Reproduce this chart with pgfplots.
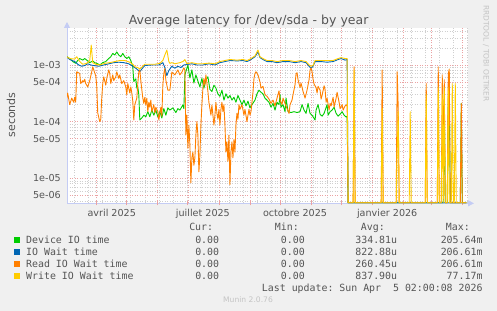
\documentclass[border=0pt]{standalone}
\usepackage{fontspec}
\setmainfont{DejaVu Sans}
\setmonofont{DejaVu Sans Mono}
\usepackage{pgfplots}
\pgfplotsset{compat=1.18}
\usetikzlibrary{arrows.meta}
\definecolor{cDev}{HTML}{00CC00}
\definecolor{cIO}{HTML}{0066B3}
\definecolor{cRead}{HTML}{FF8000}
\definecolor{cWrite}{HTML}{FFCC00}
\definecolor{bgc}{HTML}{F0F0F0}
\definecolor{mgrid}{HTML}{EBA3A3}
\definecolor{ngrid}{HTML}{CFCFCF}
\definecolor{axcol}{HTML}{C4CCF4}
\definecolor{txt}{HTML}{555555}
\definecolor{wm}{HTML}{C4C4C4}
\newcommand{\legfont}{\ttfamily\fontsize{9.9bp}{12bp}\selectfont}
\begin{document}
\begin{tikzpicture}[x=1bp,y=1bp]
\path[use as bounding box] (0bp,0bp) rectangle (497bp,311bp);
\fill[bgc] (0bp,0bp) rectangle (497bp,311bp);
\begin{axis}[
  at={(67bp,107.7bp)}, anchor=south west,
  scale only axis, width=401bp, height=175.3bp,
  xmin=-29.7, xmax=370.7,
  ymode=log, ymin=3.62e-6, ymax=4.5e-3,
  axis background/.style={fill=white},
  axis x line*=bottom, axis y line*=left,
  x axis line style={draw=axcol, line width=0.9bp, shorten >=-6bp, -{Triangle[length=6bp,width=6bp]}},
  y axis line style={draw=axcol, line width=0.9bp, shorten >=-6bp, -{Triangle[length=6bp,width=6bp]}},
  major tick length=0pt, minor tick length=0pt,
  xtick={15,106,198,290},
  xticklabels={avril 2025,juillet 2025,octobre 2025,janvier 2026},
  xticklabel style={font=\fontsize{9.6bp}{11bp}\selectfont, text=txt, anchor=base, yshift=-13.4bp, inner sep=0pt},
  xmajorgrids=false,
  extra x ticks={0,30,61,91,122,153,183,214,244,275,306,334,365},
  extra x tick labels={},
  extra x tick style={xmajorgrids=true, major tick length=4bp, tick align=center, major tick style={mgrid, line width=0.8bp}},
  minor xtick={-22,-8,...,370},
  xminorgrids=true,
  ytick={5e-6,1e-5,5e-5,1e-4,5e-4,1e-3},
  yticklabels={5e-06,1e-05,5e-05,1e-04,5e-04,1e-03},
  yticklabel style={font=\fontsize{9.6bp}{11bp}\selectfont, text=txt, anchor=east, inner sep=0pt, xshift=-6bp},
  ymajorgrids=true,
  minor ytick={4e-6,6e-6,7e-6,8e-6,9e-6,2e-5,3e-5,4e-5,6e-5,7e-5,8e-5,9e-5,2e-4,3e-4,4e-4,6e-4,7e-4,8e-4,9e-4,2e-3,3e-3,4e-3},
  yminorgrids=true,
  major grid style={mgrid, line width=0.7bp, dash pattern=on 1bp off 1.5bp},
  minor grid style={ngrid, line width=0.6bp, dash pattern=on 1bp off 1.5bp},
  every axis plot/.append style={line width=0.9bp, line join=round},
]
% Device IO time
\addplot[cDev] coordinates {
(-30,1.4e-3)(-27,1.3e-3)(-24,1.15e-3)(-21,1.07e-3)(-19,1.2e-3)(-17,1.3e-3)(-14,1.22e-3)(-12,1.3e-3)
(-9,1.18e-3)(-7,1.1e-3)(-4,1.18e-3)(-2,1.1e-3)(1,1.05e-3)(3,1.0e-3)(6,1.1e-3)(9,1.15e-3)(12,1.3e-3)
(14,1.4e-3)(16,1.6e-3)(18,1.5e-3)(20,1.7e-3)(22,1.5e-3)(24,1.4e-3)(26,1.6e-3)(28,1.4e-3)(30,1.3e-3)
(32,1.4e-3)(34,1.2e-3)(36,9.3e-4)(37,5.1e-4)(39,5.7e-4)(40,3.9e-4)(41,4.1e-4)(42,3e-4)(43,1.07e-4)
(45,1.16e-4)(47,1.3e-4)(49,1.22e-4)(51,1.5e-4)(53,1.22e-4)(55,1.6e-4)(57,1.3e-4)(59,1.6e-4)(61,1.22e-4)
(63,1.5e-4)(65,1.16e-4)(67,1.7e-4)(69,1.3e-4)(71,1.75e-4)(73,1.6e-4)(76,1.75e-4)(79,1.45e-4)(81,1.7e-4)
(83,1.6e-4)(86,1.97e-4)(87,1.7e-4)(88,6.7e-4)(91,1.0e-3)(93,5.9e-4)(95,8.2e-4)(97,4.8e-4)(99,6.7e-4)
(101,5.2e-4)(103,4.1e-4)(105,5.8e-4)(107,3.9e-4)(109,5.5e-4)(111,6.2e-4)(113,3.7e-4)(115,3.4e-4)
(117,4.4e-4)(119,3.9e-4)(121,3.1e-4)(123,2.8e-4)(125,3.6e-4)(127,2.4e-4)(129,3.1e-4)(131,2.6e-4)
(133,2.9e-4)(135,2.4e-4)(137,2.7e-4)(139,2.2e-4)(141,2.9e-4)(143,2.4e-4)(145,2.0e-4)(147,2.4e-4)
(149,1.9e-4)(151,2.3e-4)(153,1.75e-4)(155,2.0e-4)(158,2.4e-4)(160,3.1e-4)(162,3.6e-4)(164,3.3e-4)
(166,3.1e-4)(168,2.6e-4)(170,2.4e-4)(172,2.2e-4)(174,1.8e-4)(176,2.1e-4)(178,1.6e-4)(180,2.2e-4)
(182,2.0e-4)(183,3.0e-4)(184,1.8e-4)(186,2.0e-4)(188,1.5e-4)(189,2.6e-4)(191,1.5e-4)(194,1.45e-4)
(197,1.5e-4)(200,1.45e-4)(203,1.5e-4)(205,2.0e-4)(207,1.6e-4)(209,1.4e-4)(211,2.1e-4)(213,1.4e-4)
(215,1.3e-4)(218,1.07e-4)(219,1.6e-4)(221,2.0e-4)(223,1.35e-4)(225,1.25e-4)(227,1.4e-4)(230,2.0e-4)
(231,1.3e-4)(233,1.5e-4)(235,1.6e-4)(237,1.8e-4)(239,1.4e-4)(241,1.25e-4)(243,1.35e-4)(245,1.5e-4)
(247,1.3e-4)(249,1.2e-4)(250,1.25e-4)(251,3.7e-6)
(346,3.7e-6)(347,2.0e-4)(348,3.7e-6)(350,3.7e-6)(351,2.5e-4)(352,3.0e-4)(353,3.7e-6)
(363,3.7e-6)(364,2.1e-4)(365,3.7e-6)(369,3.7e-6)
};
% IO Wait time
\addplot[cIO] coordinates {
(-30,1.4e-3)(-27,1.25e-3)(-22,1.15e-3)(-18,1.0e-3)(-15,9.5e-4)(-12,9.8e-4)(-9,1.05e-3)(-6,1.0e-3)
(-3,9.8e-4)(2,9.5e-4)(7,1.0e-3)(12,1.05e-3)(17,1.1e-3)(22,1.12e-3)(27,1.1e-3)(32,1.05e-3)(36,9.5e-4)
(40,8.5e-4)(43,7.6e-4)(45,8.5e-4)(48,9.8e-4)(55,1.0e-3)(62,1.0e-3)(66,1.1e-3)(68,9e-4)(70,6.5e-4)
(72,8e-4)(75,9.5e-4)(78,8.8e-4)(81,9.5e-4)(84,9e-4)(87,1.0e-3)(90,1.02e-3)(95,1.05e-3)(100,1.0e-3)
(106,1.0e-3)(112,1.05e-3)(118,1.0e-3)(123,1.1e-3)(128,1.15e-3)(133,1.2e-3)(140,1.18e-3)(146,1.2e-3)
(150,1.15e-3)(154,1.25e-3)(158,1.4e-3)(161,1.7e-3)(163,1.35e-3)(166,1.25e-3)(170,1.15e-3)(175,1.15e-3)
(180,1.1e-3)(186,1.15e-3)(192,1.15e-3)(198,1.1e-3)(204,1.15e-3)(209,1.1e-3)(212,9.5e-4)(214,8.8e-4)
(216,9.5e-4)(218,1.15e-3)(224,1.15e-3)(230,1.12e-3)(236,1.15e-3)(241,1.25e-3)(244,1.3e-3)(248,1.22e-3)
(250,1.25e-3)(251,3.7e-6)(369,3.7e-6)
};
% Read IO Wait time
\addplot[cRead] coordinates {
(-30,2.6e-4)(-29,3.2e-4)(-27,2.0e-4)(-25,2.6e-4)(-23,2.2e-4)(-22,2.7e-4)(-21,2.2e-4)(-20,7.6e-4)
(-19,7.4e-4)(-17,7.1e-4)(-16,4.7e-4)(-14,5.3e-4)(-13,5.0e-4)(-12,5.6e-4)(-11,4.7e-4)(-9,4.1e-4)
(-7,5.3e-4)(-5,7.6e-4)(-4,9.3e-4)(-3,8.2e-4)(-1,6.4e-4)(0,4.3e-4)(1,1.42e-4)(3,1.0e-4)(4,1.1e-4)
(5,2.6e-4)(6,4.7e-4)(7,6.2e-4)(9,4.4e-4)(10,5.8e-4)(12,8.2e-4)(13,7.1e-4)(14,4.7e-4)(16,6.7e-4)
(17,5.3e-4)(19,6.2e-4)(20,7.6e-4)(22,5.8e-4)(23,6.7e-4)(25,4.7e-4)(27,5.3e-4)(29,4.1e-4)(30,3.0e-4)
(31,4.7e-4)(33,3.2e-4)(34,4.1e-4)(35,3.2e-4)(36,2.3e-4)(37,1.07e-4)(38,2.0e-4)(40,2.6e-4)(41,4.7e-4)
(42,7.6e-4)(43,8.2e-4)(44,5.3e-4)(45,3.7e-4)(46,2.6e-4)(47,2.1e-4)(48,2.7e-4)(49,1.97e-4)(50,2.6e-4)
(51,1.5e-4)(52,2.2e-4)(53,1.8e-4)(54,2.4e-4)(55,1.5e-4)(57,2.0e-4)(58,1.42e-4)(59,1.8e-4)(61,1.5e-4)
(62,1.07e-4)(63,1.4e-4)(64,1.8e-4)(65,1.25e-4)(66,4.4e-4)(67,7.1e-4)(68,8.7e-4)(69,5.4e-4)(71,3.6e-4)
(73,3.6e-4)(75,7.5e-4)(78,6.7e-4)(81,8.2e-4)(83,6.7e-4)(85,7.5e-4)(87,8.9e-4)(88,8.2e-4)(89,5.8e-5)
(90,1.3e-4)(91,3.4e-5)(92,8.7e-5)(93,3.9e-5)(94,8.3e-6)(95,2.3e-5)(96,2.9e-5)(97,1.7e-5)(98,2.3e-5)
(99,5.8e-5)(100,1.0e-4)(101,5.8e-5)(102,1.3e-5)(103,2.6e-5)(104,8.7e-5)(105,2.0e-4)(106,3.9e-4)
(107,5.8e-4)(108,4.4e-4)(109,6.7e-4)(110,4.8e-4)(111,3.4e-4)(112,2.2e-4)(113,1.7e-4)(114,1.3e-4)
(115,1.97e-4)(116,1.3e-4)(117,8.7e-5)(118,1.3e-4)(119,2.2e-4)(120,1.4e-4)(121,1.1e-4)(122,1.65e-4)
(123,8.7e-5)(124,1.65e-4)(125,2.2e-4)(126,1.5e-4)(127,2.0e-4)(128,8.7e-5)(129,2.9e-5)(130,4.4e-5)
(131,2.0e-5)(132,5.8e-5)(133,7.7e-6)(134,2.9e-5)(135,4.4e-5)(136,2.3e-5)(137,4.8e-5)(138,2.9e-5)
(139,8.7e-5)(140,1.4e-4)(141,1.1e-4)(142,2.0e-4)(143,1.65e-4)(145,2.0e-4)(147,1.3e-4)(148,1.65e-4)
(150,1.0e-4)(151,1.3e-4)(152,1.65e-4)(153,1.3e-4)(154,1.5e-4)(155,2.2e-4)(156,3.3e-4)(157,5.8e-4)
(158,7.1e-4)(159,7.6e-4)(161,6.7e-4)(162,5.8e-4)(163,5.0e-4)(164,3.9e-4)(166,4.2e-4)(168,3.0e-4)
(170,2.8e-4)(172,2.5e-4)(174,2.1e-4)(176,2.4e-4)(178,1.9e-4)(180,2.6e-4)(182,3.5e-4)(183,2.4e-4)
(185,2.0e-4)(186,2.6e-4)(188,2.1e-4)(190,1.7e-4)(192,1.4e-4)(193,2.0e-4)(195,2.4e-4)(196,3.0e-4)
(198,4.5e-4)(199,7.0e-4)(200,7.3e-4)(201,5.5e-4)(203,4.0e-4)(204,4.8e-4)(206,3.4e-4)(207,3.0e-4)
(208,2.6e-4)(210,3.6e-4)(212,5.5e-4)(213,8.2e-4)(214,8.9e-4)(215,7.6e-4)(216,5.6e-4)(217,4.6e-4)
(219,4.0e-4)(220,3.2e-4)(221,4.2e-4)(223,3.6e-4)(224,2.5e-4)(225,2.9e-4)(227,4.3e-4)(228,3.7e-4)
(229,2.2e-4)(230,2.6e-4)(232,1.6e-4)(233,2.1e-4)(234,1.9e-4)(236,2.7e-4)(237,1.8e-4)(239,2.6e-4)
(240,3.3e-4)(242,2.2e-4)(243,1.7e-4)(245,2.0e-4)(246,1.6e-4)(248,1.9e-4)(250,2.0e-4)(251,3.7e-6)
(256,3.7e-6)(257,9.3e-4)(258,3.7e-6)(284,3.7e-6)(285,8.2e-4)(286,3.7e-6)(299,3.7e-6)(300,7.6e-4)
(301,1.85e-4)(302,3.7e-6)(328,3.7e-6)(329,4.7e-4)(330,3.7e-6)(340,3.7e-6)(341,9.3e-4)(342,3.7e-6)
(344,3.7e-6)(345,6.7e-4)(346,2.0e-5)(347,5.5e-4)(348,3.7e-6)(350,3.7e-6)(351,7.0e-4)(352,8.5e-4)
(353,3.7e-6)(363,3.7e-6)(364,2.1e-4)(365,3.7e-6)(369,3.7e-6)
};
% Write IO Wait time
\addplot[cWrite] coordinates {
(-30,1.4e-3)(-27,1.3e-3)(-22,1.27e-3)(-20,1.4e-3)(-17,1.15e-3)(-14,1.03e-3)(-10,1.07e-3)(-7,1.2e-3)
(-5.5,2.25e-3)(-4,1.1e-3)(-1,1.03e-3)(3,1.0e-3)(8,1.07e-3)(13,1.1e-3)(18,1.15e-3)(23,1.2e-3)(28,1.2e-3)
(33,1.12e-3)(36,1.03e-3)(38,9.3e-4)(41,9e-4)(43,8.5e-4)(46,9.5e-4)(48,1.03e-3)(53,1.03e-3)(58,1.03e-3)
(63,1.07e-3)(66,1.2e-3)(68,1.5e-3)(70,1.84e-3)(72,1.15e-3)(73,1.07e-3)(75,1.1e-3)(78,1.05e-3)(83,1.1e-3)
(86,1.15e-3)(88,1.25e-3)(90,1.05e-3)(95,1.1e-3)(100,1.05e-3)(106,1.05e-3)(112,1.08e-3)(118,1.05e-3)
(123,1.15e-3)(128,1.2e-3)(133,1.25e-3)(140,1.22e-3)(146,1.25e-3)(150,1.2e-3)(154,1.3e-3)(158,1.45e-3)
(161,1.84e-3)(163,1.4e-3)(166,1.3e-3)(170,1.2e-3)(175,1.2e-3)(180,1.15e-3)(186,1.2e-3)(192,1.2e-3)
(198,1.15e-3)(204,1.2e-3)(209,1.15e-3)(212,1.0e-3)(214,9.5e-4)(216,9.8e-4)(218,1.2e-3)(224,1.2e-3)
(230,1.2e-3)(236,1.2e-3)(241,1.3e-3)(244,1.35e-3)(248,1.3e-3)(250,1.3e-3)(251,3.7e-6)
(256,3.7e-6)(257,8.0e-4)(258,3.7e-6)(284,3.7e-6)(285,1.7e-4)(286,3.7e-6)(299,3.7e-6)(300,3.0e-5)
(301,1.5e-4)(302,3.7e-6)(312,3.7e-6)(313,1.5e-4)(314,3.7e-6)(328,3.7e-6)(329,3.0e-4)(330,3.7e-6)
(340,3.7e-6)(341,4.0e-4)(342,3.7e-6)(344,3.7e-6)(345,3.0e-4)(346,3.7e-6)(347,4.0e-4)(348,3.7e-6)
(350,3.7e-6)(351,4.0e-4)(352,3.7e-6)(354,3.7e-6)(355,4.7e-4)(356,3.7e-6)(357,3.7e-6)(358,4.7e-4)
(359,3.7e-6)(369,3.7e-6)
};
\end{axis}
% title and labels
\node[anchor=base, inner sep=0pt, font=\fontsize{12.5bp}{14bp}\selectfont, text=txt] at (248.6bp,286.7bp) {Average latency for /dev/sda - by year};
\node[rotate=90, inner sep=0pt, font=\fontsize{11bp}{13bp}\selectfont, text=txt] at (11bp,196bp) {seconds};
\node[rotate=-90, inner sep=0pt, font=\fontsize{7.5bp}{9bp}\selectfont, text=wm] at (486bp,257.5bp) {RRDTOOL / TOBI OETIKER};
% legend
\fill[cDev] (14bp,68.3bp) rectangle (20bp,73.9bp);
\fill[cIO] (14bp,56.3bp) rectangle (20bp,61.9bp);
\fill[cRead] (14bp,44.3bp) rectangle (20bp,49.9bp);
\fill[cWrite] (14bp,32.3bp) rectangle (20bp,37.9bp);
\begin{scope}[every node/.style={inner sep=0pt, font=\legfont, text=txt}]
\node[anchor=base east] at (213.3bp,80bp) {Cur:};
\node[anchor=base east] at (299bp,80bp) {Min:};
\node[anchor=base east] at (385bp,80bp) {Avg:};
\node[anchor=base east] at (470bp,80bp) {Max:};
\node[anchor=base west] at (26bp,67.3bp) {Device IO time};
\node[anchor=base west] at (26bp,55.3bp) {IO Wait time};
\node[anchor=base west] at (26bp,43.3bp) {Read IO Wait time};
\node[anchor=base west] at (26bp,31.3bp) {Write IO Wait time};
\node[anchor=base east] at (219.3bp,67.3bp) {0.00};
\node[anchor=base east] at (219.3bp,55.3bp) {0.00};
\node[anchor=base east] at (219.3bp,43.3bp) {0.00};
\node[anchor=base east] at (219.3bp,31.3bp) {0.00};
\node[anchor=base east] at (305bp,67.3bp) {0.00};
\node[anchor=base east] at (305bp,55.3bp) {0.00};
\node[anchor=base east] at (305bp,43.3bp) {0.00};
\node[anchor=base east] at (305bp,31.3bp) {0.00};
\node[anchor=base east] at (397.3bp,67.3bp) {334.81u};
\node[anchor=base east] at (397.3bp,55.3bp) {822.88u};
\node[anchor=base east] at (397.3bp,43.3bp) {260.45u};
\node[anchor=base east] at (397.3bp,31.3bp) {837.90u};
\node[anchor=base east] at (482.7bp,67.3bp) {205.64m};
\node[anchor=base east] at (482.7bp,55.3bp) {206.61m};
\node[anchor=base east] at (482.7bp,43.3bp) {206.61m};
\node[anchor=base east] at (482.7bp,31.3bp) {77.17m};
\node[anchor=base east] at (482.7bp,19.3bp) {Last update: Sun Apr\ \ 5 02:00:08 2026};
\end{scope}
\node[anchor=base, inner sep=0pt, font=\fontsize{7.6bp}{9bp}\selectfont, text=wm] at (248bp,8.3bp) {Munin 2.0.76};
\end{tikzpicture}
\end{document}
